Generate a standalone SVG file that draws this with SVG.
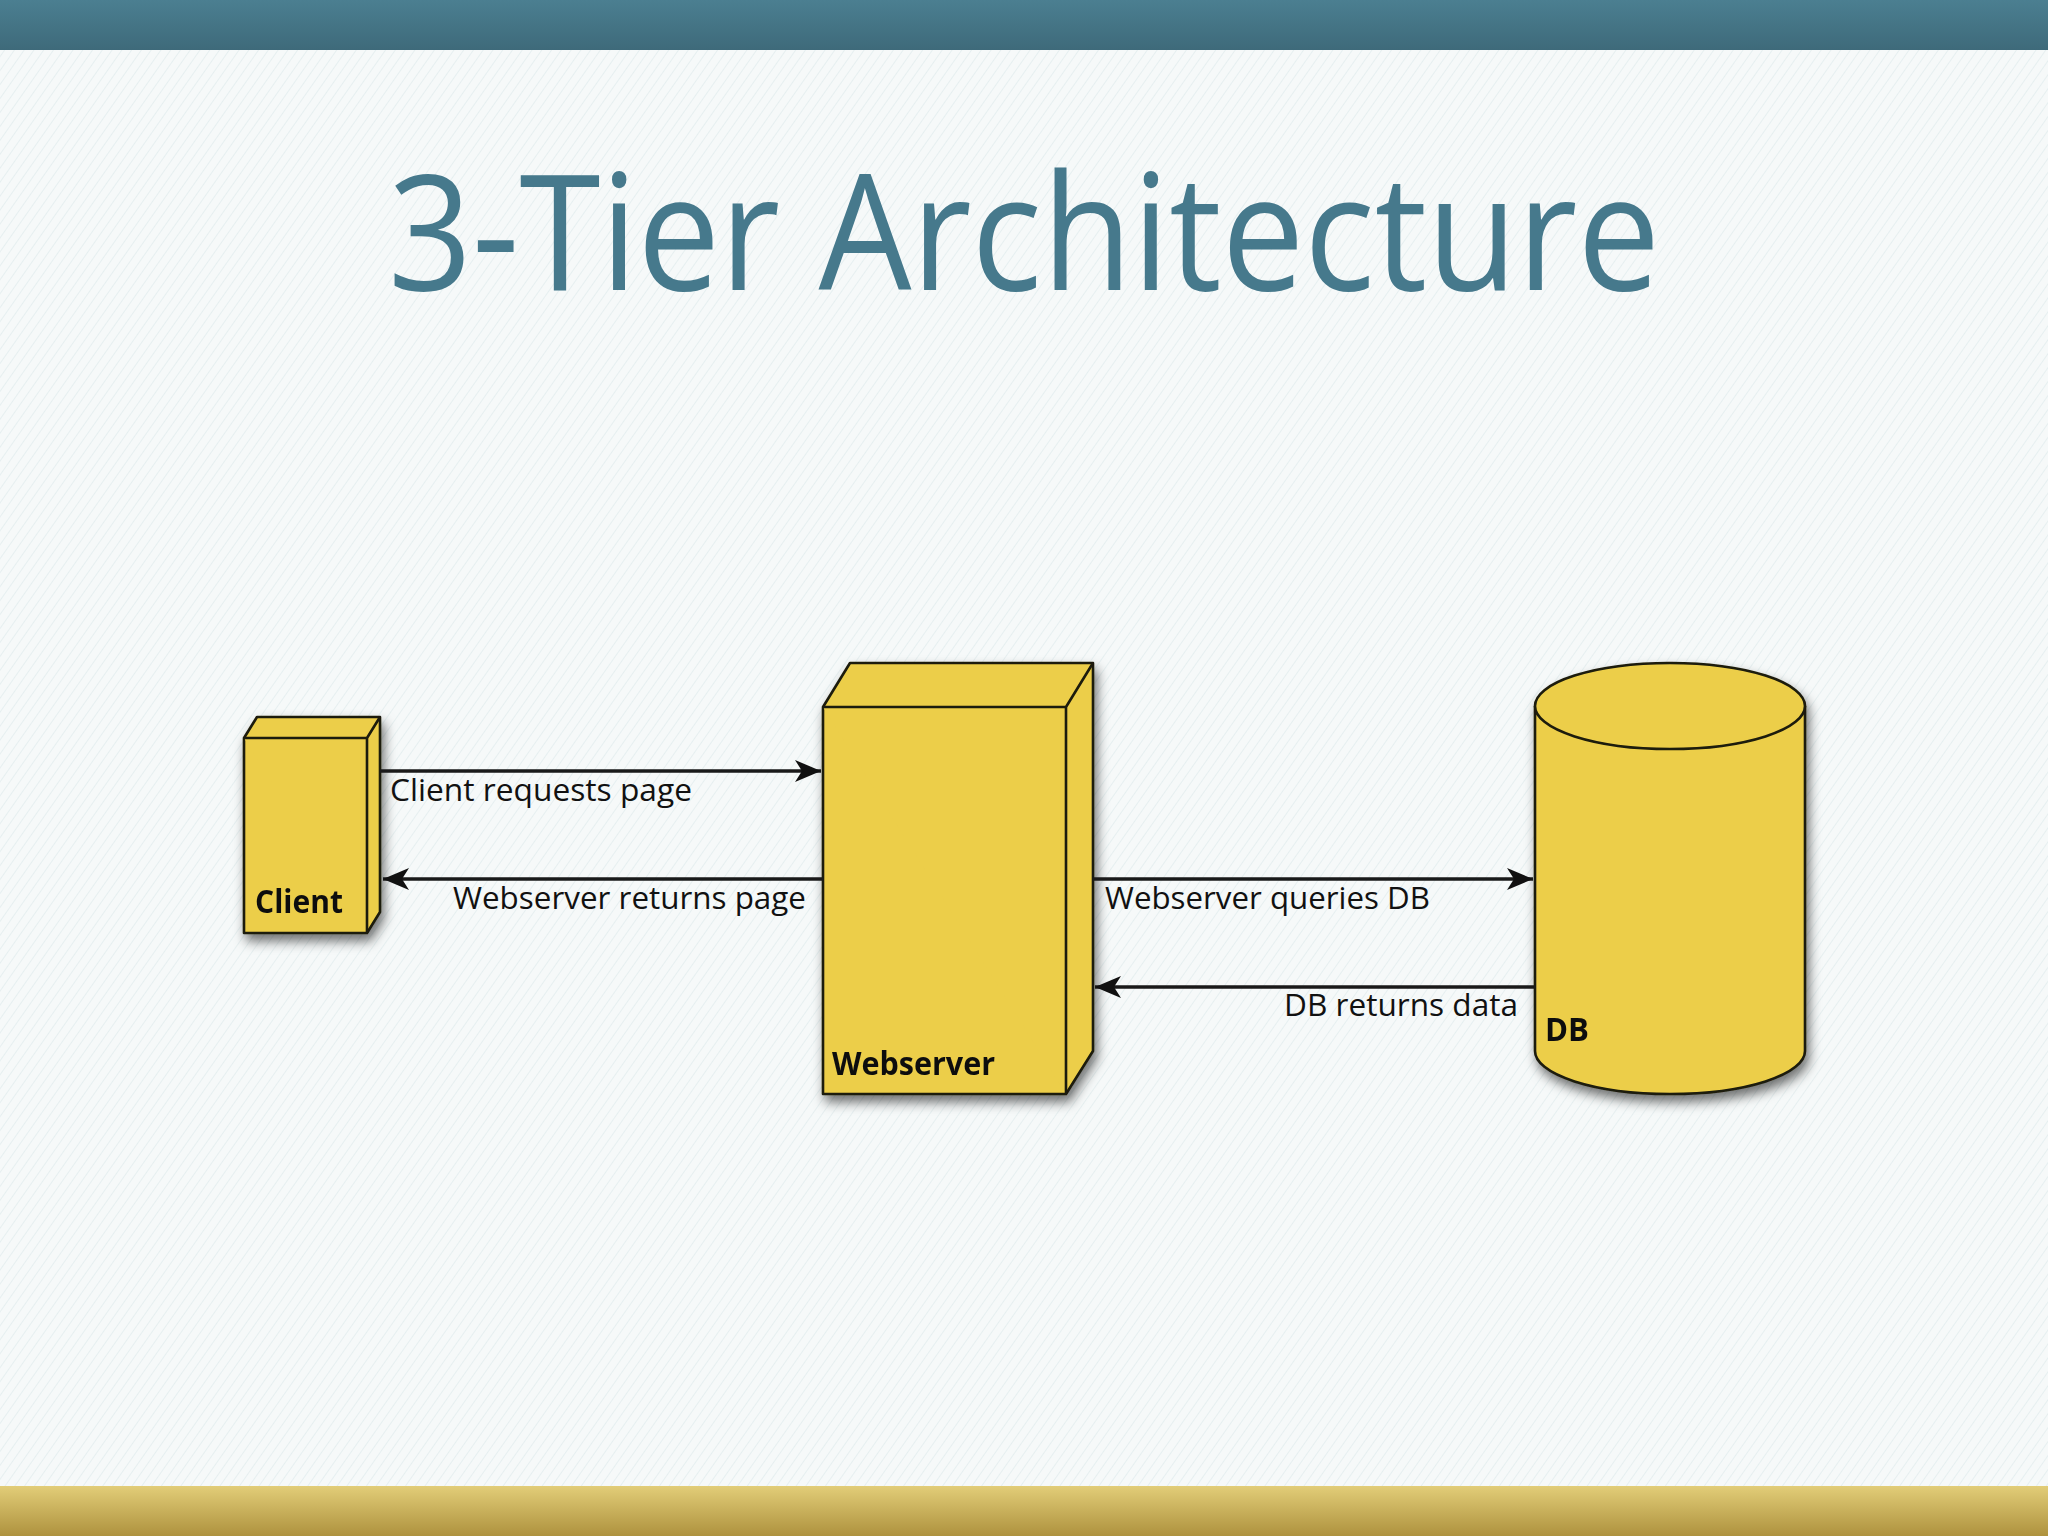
<svg xmlns="http://www.w3.org/2000/svg" width="2048" height="1536" viewBox="0 0 2048 1536">
<style>
.box{fill:#ecce4a;stroke:#1c1a0a;stroke-width:2.6;stroke-linejoin:round}
.lbl{font-family:"Open Sans","Liberation Sans",sans-serif;font-size:31px;fill:#111}
.nm{font-family:"Open Sans","Liberation Sans",sans-serif;font-size:32px;font-weight:bold;fill:#111}
.conn{stroke:#1a1a1a;stroke-width:3.4;fill:none}
</style>
<defs>
<linearGradient id="topbar" x1="0" y1="0" x2="0" y2="1">
<stop offset="0" stop-color="#4b7f91"/>
<stop offset="1" stop-color="#3e6a7a"/>
</linearGradient>
<linearGradient id="botbar" x1="0" y1="0" x2="0" y2="1">
<stop offset="0" stop-color="#e2cd78"/>
<stop offset="1" stop-color="#ae923e"/>
</linearGradient>
<pattern id="hatch" width="8" height="8" patternUnits="userSpaceOnUse" patternTransform="rotate(35)">
<rect width="8" height="8" fill="#f6f9f9"/>
<line x1="0" y1="0" x2="0" y2="8" stroke="#e1ecee" stroke-width="1.5"/>
</pattern>
<filter id="shadow" x="-20%" y="-20%" width="140%" height="140%">
<feDropShadow dx="3" dy="7" stdDeviation="6" flood-color="#000" flood-opacity="0.55"/>
</filter>
<marker id="arr" markerUnits="userSpaceOnUse" markerWidth="28" markerHeight="24" refX="26" refY="12" orient="auto">
<path d="M0,1 L26,12 L0,23 L7,12 z" fill="#111"/>
</marker>
</defs>

<rect x="0" y="0" width="2048" height="1536" fill="url(#hatch)"/>
<rect x="0" y="0" width="2048" height="50" fill="url(#topbar)"/>
<rect x="0" y="1486" width="2048" height="50" fill="url(#botbar)"/>

<text x="1024" y="290" text-anchor="middle" font-family="'Open Sans','Lato',sans-serif" font-size="162" fill="#46798c" textLength="1272" lengthAdjust="spacingAndGlyphs">3-Tier Architecture</text>

<g id="client" filter="url(#shadow)">
<path class="box" d="M244,738 L257,717 L380,717 L380,912 L367,933 L244,933 Z"/>
<path class="box" d="M244,738 L367,738 L367,933 M367,738 L380,717" fill="none"/>
<text class="nm" x="255" y="913" textLength="88" lengthAdjust="spacingAndGlyphs">Client</text>
</g>

<g id="webserver" filter="url(#shadow)">
<path class="box" d="M823,707 L850,663 L1093,663 L1093,1051 L1066,1094 L823,1094 Z"/>
<path class="box" d="M823,707 L1066,707 L1066,1094 M1066,707 L1093,663" fill="none"/>
<text class="nm" x="832" y="1075" textLength="163" lengthAdjust="spacingAndGlyphs">Webserver</text>
</g>

<g id="db" filter="url(#shadow)">
<path class="box" d="M1535,706 A135,43 0 0 1 1805,706 L1805,1051 A135,43 0 0 1 1535,1051 Z"/>
<path class="box" d="M1535,706 A135,43 0 0 0 1805,706" fill="none"/>
<text class="nm" x="1545" y="1041" textLength="44" lengthAdjust="spacingAndGlyphs">DB</text>
</g>

<g id="connectors">
<line class="conn" x1="380" y1="771" x2="821" y2="771" marker-end="url(#arr)"/>
<line class="conn" x1="823" y1="879" x2="383" y2="879" marker-end="url(#arr)"/>
<line class="conn" x1="1093" y1="879" x2="1533" y2="879" marker-end="url(#arr)"/>
<line class="conn" x1="1535" y1="987" x2="1095" y2="987" marker-end="url(#arr)"/>
<text class="lbl" x="390" y="801" textLength="302" lengthAdjust="spacingAndGlyphs">Client requests page</text>
<text class="lbl" x="453" y="909" textLength="353" lengthAdjust="spacingAndGlyphs">Webserver returns page</text>
<text class="lbl" x="1105" y="909" textLength="325" lengthAdjust="spacingAndGlyphs">Webserver queries DB</text>
<text class="lbl" x="1284" y="1016" textLength="234" lengthAdjust="spacingAndGlyphs">DB returns data</text>
</g>
</svg>
